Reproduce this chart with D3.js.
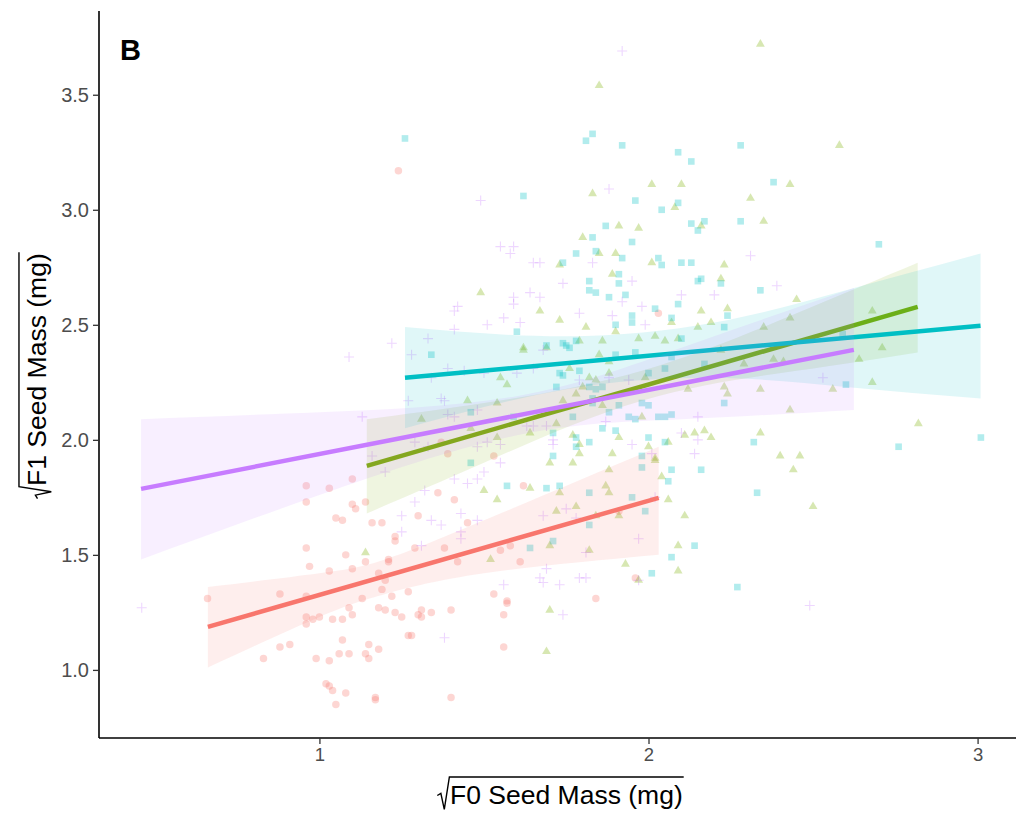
<!DOCTYPE html>
<html>
<head>
<meta charset="utf-8">
<script src="https://cdn.jsdelivr.net/npm/d3@7"></script>
<style>
  body { margin: 0; background: #fff; }
  svg { display: block; font-family: "Liberation Sans", Arial, sans-serif; }
</style>
</head>
<body>
<svg id="chart"></svg>
<script>
const svgWidth = 1016;
const svgHeight = 817;

// scatter points, [sqrt F0, sqrt F1] per group
const redPts = [
  [0.96,1.80],[1.03,1.79],[1.10,1.83],[0.96,1.73],[1.10,1.72],[1.11,1.70],[1.14,1.73],[1.05,1.66],
  [1.07,1.65],[1.16,1.64],[1.19,1.64],[1.23,1.58],[1.23,1.56],[1.29,1.53],[1.30,1.67],[0.96,1.53],
  [1.08,1.50],[0.97,1.45],[1.03,1.43],[1.10,1.44],[1.14,1.47],[1.21,1.48],[1.21,1.47],[1.18,1.42],
  [1.20,1.39],[1.19,1.35],[1.22,1.32],[1.27,1.34],[1.13,1.31],[0.66,1.31],[0.88,1.33],[0.96,1.32],
  [1.18,1.27],[1.20,1.26],[1.23,1.25],[1.25,1.23],[1.09,1.27],[1.10,1.24],[0.96,1.23],[0.98,1.22],
  [1.00,1.23],[1.04,1.22],[1.07,1.22],[0.96,1.20],[1.27,1.15],[1.28,1.15],[0.88,1.10],[0.91,1.11],
  [0.83,1.05],[1.07,1.13],[1.15,1.11],[1.18,1.09],[0.99,1.05],[1.03,1.04],[1.06,1.07],[1.09,1.07],
  [1.14,1.07],[1.15,1.05],[1.02,0.94],[1.03,0.93],[1.04,0.91],[1.08,0.90],[1.05,0.85],[1.17,0.88],
  [1.17,0.87],[1.30,1.24],[1.36,1.77],[1.41,1.74],[1.45,1.64],[1.38,1.53],[1.55,1.52],[1.58,1.54],
  [1.42,1.47],[1.61,1.47],[1.31,1.23],[1.31,1.26],[1.34,1.25],[1.40,1.26],[1.53,1.33],[1.57,1.29],
  [1.57,1.30],[1.56,1.24],[1.56,1.10],[1.84,1.31],[1.96,1.40],[1.62,1.80],[1.91,1.69],[1.24,3.17],
  [2.03,2.55],[1.39,1.94],[1.53,1.93],[1.37,1.99],[1.40,0.88]
];
const greenPts = [
  [1.14,1.51],[1.70,1.90],[1.77,1.90],[1.50,1.78],[1.54,1.74],[1.64,1.79],[1.73,1.77],[1.72,1.69],
  [1.78,1.71],[1.84,1.67],[1.88,1.87],[1.87,1.80],[1.88,1.77],[1.91,1.67],[2.04,1.84],[2.06,1.74],
  [2.11,1.67],[2.02,1.91],[1.70,1.54],[1.82,1.52],[1.52,1.48],[1.93,1.46],[2.09,1.54],[2.09,1.43],
  [1.97,1.39],[1.70,1.26],[1.69,1.08],[1.83,3.07],[2.01,3.11],[2.10,3.11],[2.08,3.01],[1.91,2.93],
  [1.97,2.92],[1.80,2.88],[1.85,2.81],[1.90,2.81],[1.73,2.76],[2.01,2.77],[1.89,2.72],[1.49,2.64],
  [1.67,2.56],[1.73,2.52],[1.81,2.49],[1.90,2.47],[2.07,2.51],[1.97,2.44],[2.02,2.45],[2.05,2.43],
  [1.86,2.43],[1.79,2.43],[1.62,2.40],[2.15,2.49],[1.62,2.39],[1.69,2.40],[2.09,2.44],[2.19,2.51],
  [1.85,2.37],[1.88,2.34],[1.76,2.31],[1.82,2.27],[1.84,2.26],[1.55,2.27],[1.57,2.24],[1.88,2.29],
  [1.80,2.23],[1.78,2.20],[1.74,2.17],[1.86,2.15],[1.99,2.27],[2.12,2.22],[1.31,2.09],[1.46,2.05],
  [1.54,2.01],[1.64,2.03],[1.72,2.07],[1.77,2.02],[1.79,1.98],[1.91,2.01],[1.98,2.10],[1.89,1.94],
  [2.00,1.97],[2.02,1.92],[1.79,1.94],[2.11,2.02],[2.14,2.03],[2.17,2.04],[2.19,2.01],[2.06,1.99],
  [1.45,2.17],[1.54,2.16],[2.45,2.61],[2.16,2.56],[2.24,2.57],[2.43,2.53],[2.35,2.49],[2.68,2.56],
  [2.71,2.40],[2.64,2.35],[2.68,2.25],[2.56,2.22],[2.34,2.22],[2.23,2.23],[2.24,2.20],[2.22,2.39],
  [2.29,2.33],[2.38,2.35],[2.41,2.34],[2.43,2.13],[2.34,2.03],[2.82,2.07],[2.40,1.93],[2.46,1.93],
  [2.44,1.87],[2.50,1.71],[2.34,3.72],[2.58,3.28],[2.43,3.11],[2.31,3.05],[2.35,2.95],[2.16,2.93],
  [2.23,2.76],[2.22,2.70],[1.85,3.54]
];
const cyanPts = [
  [1.26,3.31],[1.83,3.33],[1.81,3.30],[1.92,3.28],[2.09,3.25],[2.13,3.21],[1.62,3.06],[1.96,3.04],
  [2.09,3.03],[2.04,3.00],[1.87,2.93],[2.13,2.94],[2.15,2.91],[1.83,2.88],[1.95,2.86],[1.78,2.81],
  [1.84,2.82],[1.92,2.79],[1.74,2.77],[2.03,2.79],[2.04,2.76],[2.10,2.77],[2.13,2.77],[1.91,2.72],
  [1.91,2.68],[1.82,2.69],[1.82,2.65],[1.84,2.64],[1.88,2.62],[1.93,2.63],[2.02,2.57],[2.09,2.59],
  [1.95,2.54],[1.95,2.51],[1.90,2.50],[2.07,2.53],[2.15,2.69],[1.60,2.47],[1.75,2.41],[1.78,2.43],
  [1.69,2.41],[1.46,1.90],[1.57,1.80],[1.69,1.79],[1.73,1.80],[1.82,1.77],[1.95,1.75],[1.98,1.88],
  [2.07,1.87],[2.16,1.87],[2.06,1.82],[1.99,1.69],[1.82,1.63],[1.71,1.56],[1.64,1.53],[2.14,1.54],
  [2.07,1.49],[2.01,1.42],[1.34,2.37],[1.74,2.42],[1.76,2.40],[1.73,2.29],[1.74,2.28],[1.79,2.30],
  [1.72,2.23],[1.82,2.23],[1.84,2.22],[1.86,2.23],[1.83,2.18],[1.83,2.16],[1.91,2.15],[1.88,2.12],
  [1.77,2.10],[1.46,2.12],[1.59,2.10],[1.94,2.10],[1.96,2.09],[1.98,2.16],[2.00,2.15],[2.03,2.10],
  [2.05,2.10],[2.07,2.11],[2.00,2.29],[2.05,2.31],[2.17,2.33],[2.07,2.36],[1.90,2.37],[1.96,2.38],
  [1.86,2.05],[1.90,2.04],[1.71,2.03],[1.78,2.01],[1.78,1.97],[1.82,1.99],[1.71,1.93],[2.00,2.01],
  [2.05,1.99],[1.98,1.93],[2.24,2.54],[2.23,2.49],[2.10,2.44],[2.59,2.46],[2.60,2.24],[2.23,2.16],
  [2.32,1.99],[2.76,1.97],[3.01,2.01],[2.33,1.77],[2.27,1.36],[2.28,3.28],[2.38,3.12],[2.17,2.95],
  [2.28,2.95],[2.70,2.85],[2.16,2.70],[2.22,2.68],[2.34,2.65]
];
const purplePts = [
  [0.46,1.27],[1.20,1.86],[1.29,1.73],[1.25,1.67],[1.25,1.60],[1.55,1.90],[1.41,1.83],[1.50,1.86],
  [1.48,1.83],[1.45,1.81],[1.32,1.78],[1.43,1.68],[1.34,1.65],[1.37,1.63],[1.48,1.65],[1.43,1.60],
  [1.43,1.57],[1.31,1.54],[1.68,1.67],[1.75,1.70],[1.78,1.66],[1.81,1.51],[1.97,1.57],[2.02,1.75],
  [1.69,1.44],[1.67,1.40],[1.68,1.38],[1.73,1.37],[1.79,1.40],[1.81,1.40],[1.56,1.37],[1.97,1.39],
  [1.74,1.24],[1.38,1.14],[1.88,3.09],[1.49,3.04],[1.55,2.84],[1.59,2.84],[1.58,2.81],[1.65,2.77],
  [1.67,2.77],[1.83,2.77],[1.74,2.68],[1.95,2.69],[1.64,2.64],[1.67,2.62],[1.59,2.62],[1.59,2.59],
  [1.42,2.58],[1.41,2.56],[1.56,2.53],[1.61,2.51],[1.41,2.48],[1.51,2.50],[1.33,2.44],[1.22,2.42],
  [1.79,2.55],[1.89,2.54],[1.98,2.58],[1.99,2.50],[2.10,2.63],[1.92,2.60],[1.09,2.36],[1.28,2.37],
  [1.27,2.17],[1.13,2.10],[1.16,1.93],[1.68,2.39],[1.39,2.31],[1.44,2.30],[1.50,2.29],[1.60,2.29],
  [1.34,2.27],[1.65,2.31],[1.37,2.18],[1.38,2.17],[1.48,2.13],[1.39,2.11],[1.41,2.10],[1.79,2.26],
  [1.88,2.27],[1.94,2.26],[1.29,1.99],[1.33,1.97],[1.48,1.97],[1.51,1.99],[1.55,1.98],[1.63,2.06],
  [1.65,2.06],[1.69,2.06],[1.71,2.00],[1.71,1.98],[1.87,2.08],[2.01,1.94],[2.10,2.03],[2.14,1.94],
  [2.15,2.10],[1.95,1.98],[2.20,2.63],[2.53,2.27],[2.15,2.00],[2.49,1.28],[2.31,2.80],[2.39,2.67],
  [1.92,3.69]
];

// fitted lines (x from, x to / y from, y to)
const redFitX = [0.661, 2.031],    redFitY = [1.187, 1.748];
const greenFitX = [1.144, 2.818],  greenFitY = [1.887, 2.578];
const cyanFitX = [1.26, 3.009],    cyanFitY = [2.27, 2.496];
const purpleFitX = [0.458, 2.624], purpleFitY = [1.787, 2.391];

// confidence bands [x, lower, upper]
const redBand = [[0.661,1.01,1.36],[1.0,1.23,1.42],[1.2,1.33,1.48],[1.5,1.42,1.65],[2.031,1.50,1.97]];
const greenBand = [[1.144,1.68,2.09],[1.5,1.90,2.16],[1.98,2.17,2.30],[2.45,2.30,2.55],[2.818,2.38,2.77]];
const cyanBand = [[1.26,2.05,2.49],[1.75,2.22,2.45],[2.2,2.27,2.51],[2.6,2.23,2.65],[3.009,2.18,2.81]];
const purpleBand = [[0.458,1.48,2.09],[1.0,1.76,2.12],[1.6,2.02,2.19],[2.1,2.09,2.40],[2.624,2.13,2.66]];

const xTicks = [1, 2, 3];
const yTicks = [1.0, 1.5, 2.0, 2.5, 3.0, 3.5];

const groups = [
  { pts: redPts, fx: redFitX, fy: redFitY, band: redBand, color: "#F8766D", shape: "circle" },
  { pts: greenPts, fx: greenFitX, fy: greenFitY, band: greenBand, color: "#7CAE00", shape: "triangle" },
  { pts: cyanPts, fx: cyanFitX, fy: cyanFitY, band: cyanBand, color: "#00BFC4", shape: "square" },
  { pts: purplePts, fx: purpleFitX, fy: purpleFitY, band: purpleBand, color: "#C77CFF", shape: "plus" }
];

const panel = { left: 99, top: 11, bottom: 738, right: 1023 };

const svg = d3.select("#chart")
  .attr("width", svgWidth)
  .attr("height", svgHeight);

const x = d3.scaleLinear().domain([0.3302, 3.138]).range([panel.left, panel.right]);
const y = d3.scaleLinear().domain([0.704, 3.864]).range([panel.bottom, panel.top]);

const plot = svg.append("g");

// points first
const symCircle = d3.symbol().type(d3.symbolCircle).size(44)();
const symTri = d3.symbol().type(d3.symbolTriangle).size(34)();
const symSquare = d3.symbol().type(d3.symbolSquare).size(44)();

groups.forEach(gr => {
  const sel = plot.append("g").selectAll("path")
    .data(gr.pts)
    .enter().append("path")
    .attr("transform", d => `translate(${x(d[0])},${y(d[1])})`);
  if (gr.shape === "plus") {
    sel.attr("d", "M-5,0H5M0,-5V5")
      .attr("fill", "none")
      .attr("stroke", gr.color)
      .attr("stroke-width", 1.1)
      .attr("stroke-opacity", 0.3);
  } else {
    sel.attr("d", gr.shape === "circle" ? symCircle : gr.shape === "triangle" ? symTri : symSquare)
      .attr("fill", gr.color)
      .attr("fill-opacity", 0.3);
  }
});

// ribbons + lines, per group
const area = d3.area()
  .x(d => x(d[0]))
  .y0(d => y(d[1]))
  .y1(d => y(d[2]))
  .curve(d3.curveNatural);

groups.forEach(gr => {
  plot.append("path")
    .attr("d", area(gr.band))
    .attr("fill", gr.color)
    .attr("fill-opacity", 0.12);
  plot.append("line")
    .attr("x1", x(gr.fx[0])).attr("y1", y(gr.fy[0]))
    .attr("x2", x(gr.fx[1])).attr("y2", y(gr.fy[1]))
    .attr("stroke", gr.color)
    .attr("stroke-width", 4.5);
});

// axes
const xAxis = svg.append("g")
  .attr("transform", `translate(0,${panel.bottom})`)
  .call(d3.axisBottom(x).tickValues(xTicks).tickFormat(d3.format("d")).tickSize(6).tickPadding(4));
const yAxis = svg.append("g")
  .attr("transform", `translate(${panel.left},0)`)
  .call(d3.axisLeft(y).tickValues(yTicks).tickFormat(d3.format(".1f")).tickSize(6).tickPadding(4));

[xAxis, yAxis].forEach(ax => {
  ax.select(".domain").attr("stroke", "#000").attr("stroke-width", 1.6);
  ax.selectAll(".tick line").attr("stroke", "#333").attr("stroke-width", 1.3);
  ax.selectAll(".tick text").attr("fill", "#4d4d4d")
    .attr("font-family", "Liberation Sans, Arial, sans-serif");
});
xAxis.selectAll(".tick text").attr("font-size", 18.5);
yAxis.selectAll(".tick text").attr("font-size", 20);
// axis lines along the full panel edges
xAxis.select(".domain").attr("d", `M${panel.left},0H${panel.right}`);
yAxis.select(".domain").attr("d", `M0,${panel.top}V${panel.bottom}`);

// axis titles with a square-root sign over the label
function sqrtTitle(g, label, fs) {
  const t = g.append("text")
    .attr("font-size", fs)
    .attr("fill", "#000")
    .text(label);
  const w = t.node().getComputedTextLength();
  const r = fs * 0.48;
  const s = -(r + w) / 2;
  t.attr("x", s + r).attr("y", 0);
  g.append("path")
    .attr("d", `M${s},${-fs * 0.32}L${s + r * 0.28},${-fs * 0.4}L${s + r * 0.55},${fs * 0.2}L${s + r * 0.95},${-fs * 1.02}H${s + r + w + 1}`)
    .attr("fill", "none")
    .attr("stroke", "#000")
    .attr("stroke-width", 1.4);
}

sqrtTitle(svg.append("g").attr("transform", "translate(560,804)"), "F0 Seed Mass (mg)", 26.5);
sqrtTitle(svg.append("g").attr("transform", "translate(46,376) rotate(-90)"), "F1 Seed Mass (mg)", 26.5);

// panel tag
svg.append("text")
  .attr("x", 120)
  .attr("y", 60)
  .attr("font-size", 29)
  .attr("font-weight", "bold")
  .text("B");
</script>
</body>
</html>
